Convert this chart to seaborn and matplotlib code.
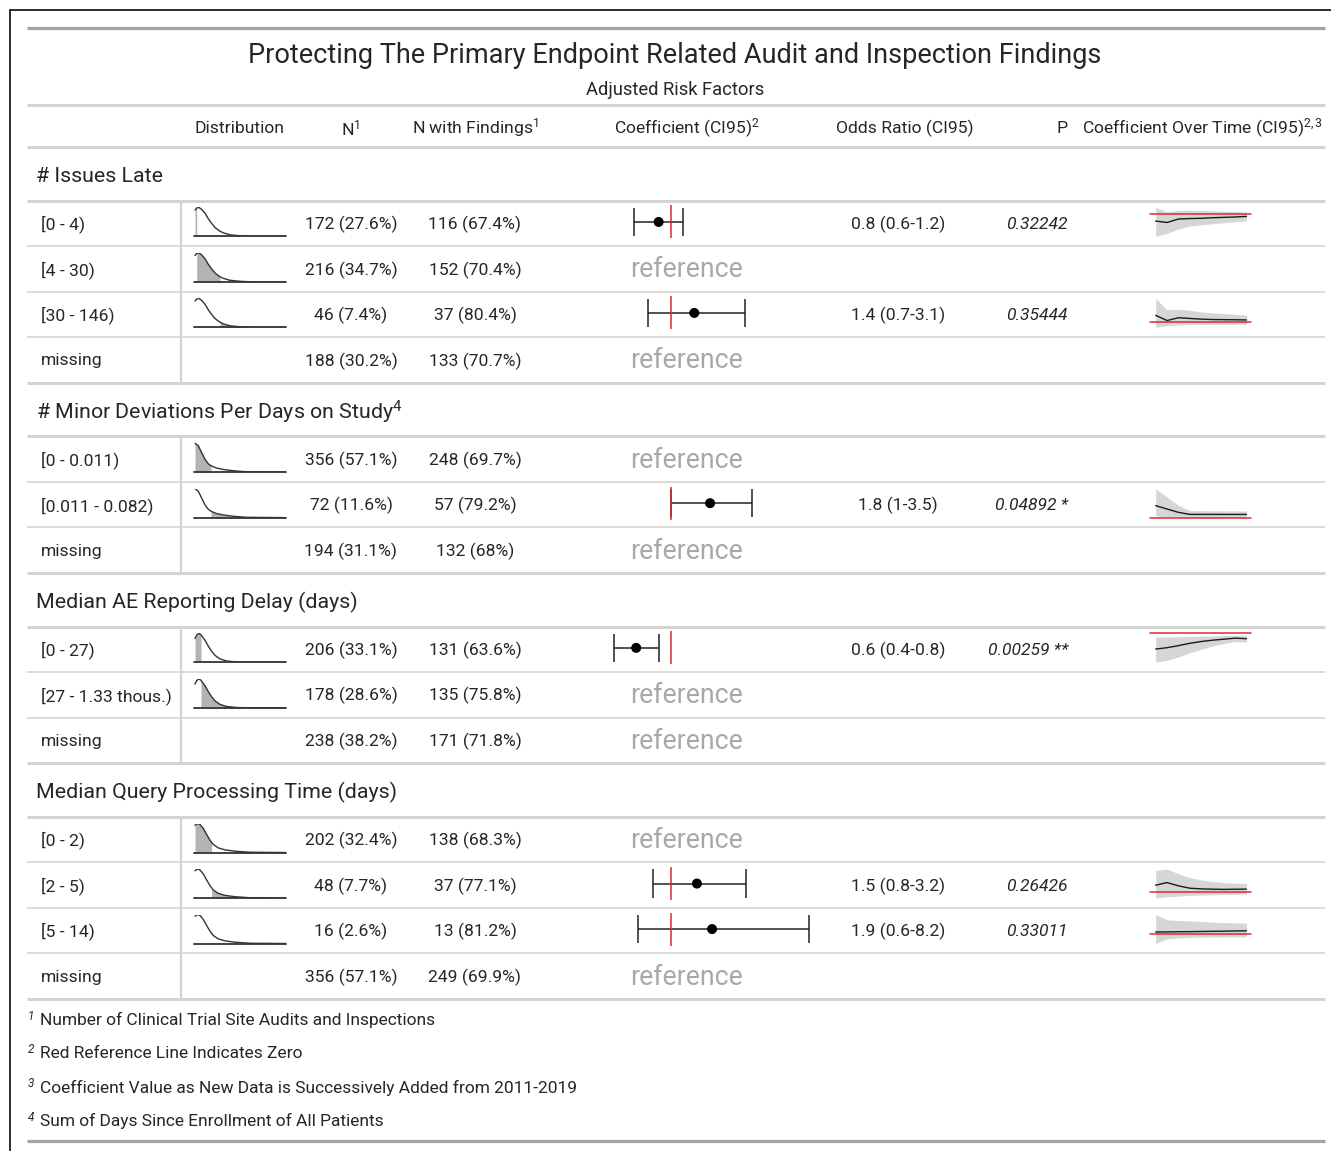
import numpy as np
import matplotlib
matplotlib.use("Agg")
import matplotlib.pyplot as plt
import seaborn as sns

sns.set_style("white")
plt.rcParams["font.family"] = ["Roboto", "DejaVu Sans"]
plt.rcParams["mathtext.fontset"] = "custom"
plt.rcParams["mathtext.rm"] = "Roboto"
plt.rcParams["mathtext.it"] = "Roboto:italic"

W, H = 1331, 1151

# ---------------------------------------------------------------- data
groups = [
    "# Issues Late",
    "# Minor Deviations Per Days on Study$^{\\mathit{4}}$",
    "Median AE Reporting Delay (days)",
    "Median Query Processing Time (days)",
]
group_sizes = [4, 3, 3, 4]

row_labels = [
    "[0 - 4)", "[4 - 30)", "[30 - 146)", "missing",
    "[0 - 0.011)", "[0.011 - 0.082)", "missing",
    "[0 - 27)", "[27 - 1.33 thous.)", "missing",
    "[0 - 2)", "[2 - 5)", "[5 - 14)", "missing",
]
n_sites = [172, 216, 46, 188, 356, 72, 194, 206, 178, 238, 202, 48, 16, 356]
n_pct = [27.6, 34.7, 7.4, 30.2, 57.1, 11.6, 31.1, 33.1, 28.6, 38.2, 32.4, 7.7, 2.6, 57.1]
n_findings = [116, 152, 37, 133, 248, 57, 132, 131, 135, 171, 138, 37, 13, 249]
findings_pct = [67.4, 70.4, 80.4, 70.7, 69.7, 79.2, 68.0, 63.6, 75.8, 71.8, 68.3, 77.1, 81.2, 69.9]

nan = np.nan
coef = [-0.18, nan, 0.36, nan, nan, 0.60, nan, -0.52, nan, nan, nan, 0.40, 0.63, nan]
ci_lo = [-0.55, nan, -0.34, nan, nan, 0.01, nan, -0.85, nan, nan, nan, -0.26, -0.50, nan]
ci_hi = [0.19, nan, 1.13, nan, nan, 1.24, nan, -0.17, nan, nan, nan, 1.15, 2.10, nan]
p_value = [0.32242, nan, 0.35444, nan, nan, 0.04892, nan, 0.00259, nan, nan, nan, 0.26426, 0.33011, nan]

# density sketch of each risk factor (position along the range, relative height)
dens_pos = [
    [0.011, 0.029, 0.054, 0.084, 0.12, 0.155, 0.192, 0.228, 0.264, 0.283, 0.318, 0.391, 0.5, 0.645, 1.0],
    [0.011, 0.047, 0.084, 0.12, 0.155, 0.185, 0.247, 0.318, 0.427, 0.573, 1.0],
    [0.011, 0.029, 0.054, 0.076, 0.12, 0.155, 0.192, 0.228, 0.283, 0.355, 0.464, 0.609, 1.0],
    [0.011, 0.036, 0.065, 0.101, 0.138, 0.174, 0.192, 0.21, 0.264, 0.337, 0.446, 0.609, 1.0],
]
dens_height = [
    [0.91, 0.98, 1.0, 0.93, 0.80, 0.61, 0.45, 0.31, 0.22, 0.18, 0.125, 0.057, 0.023, 0.0, 0.0],
    [1.0, 0.91, 0.67, 0.44, 0.29, 0.22, 0.14, 0.093, 0.047, 0.012, 0.0],
    [0.82, 0.94, 1.0, 0.95, 0.76, 0.56, 0.38, 0.24, 0.118, 0.047, 0.012, 0.0, 0.0],
    [0.94, 1.0, 0.97, 0.83, 0.62, 0.425, 0.35, 0.276, 0.16, 0.092, 0.046, 0.011, 0.0],
]
bin_edges = [
    [0.011, 0.029, 0.283, 1.0],
    [0.011, 0.185, 1.0],
    [0.011, 0.076, 1.0],
    [0.011, 0.192, 0.609, 1.0],
]

# coefficient re-estimated as each year's data is added
years = [2011, 2012, 2013, 2014, 2015, 2016, 2017, 2018, 2019]
trend_coef = {
    0: [-0.57, -0.69, -0.40, -0.36, -0.34, -0.29, -0.26, -0.23, -0.18],
    2: [1.09, 0.27, 0.71, 0.60, 0.49, 0.43, 0.41, 0.39, 0.36],
    5: [2.23, 1.61, 0.99, 0.61, 0.61, 0.61, 0.60, 0.60, 0.60],
    7: [-1.53, -1.40, -1.20, -0.97, -0.80, -0.67, -0.57, -0.47, -0.52],
    11: [0.91, 1.26, 0.83, 0.52, 0.43, 0.39, 0.36, 0.38, 0.40],
    12: [0.40, 0.42, 0.45, 0.47, 0.50, 0.53, 0.56, 0.60, 0.63],
}
trend_lo = {
    0: [-1.86, -1.60, -1.23, -1.00, -0.89, -0.80, -0.71, -0.63, -0.55],
    2: [-0.82, -0.52, -0.42, -0.38, -0.36, -0.35, -0.35, -0.34, -0.34],
    5: [0.30, 0.20, 0.10, 0.03, 0.02, 0.02, 0.02, 0.01, 0.01],
    7: [-2.83, -2.63, -2.30, -1.90, -1.57, -1.23, -1.00, -0.80, -0.85],
    11: [-0.78, -0.61, -0.52, -0.43, -0.39, -0.35, -0.32, -0.29, -0.26],
    12: [-1.80, -0.90, -0.70, -0.62, -0.58, -0.55, -0.53, -0.52, -0.50],
}
trend_hi = {
    0: [0.57, 0.20, 0.33, 0.34, 0.31, 0.29, 0.25, 0.22, 0.19],
    2: [3.75, 1.95, 2.05, 1.90, 1.63, 1.47, 1.36, 1.25, 1.13],
    5: [5.40, 3.84, 2.28, 1.32, 1.30, 1.28, 1.26, 1.25, 1.24],
    7: [-0.36, -0.35, -0.33, -0.31, -0.28, -0.25, -0.22, -0.19, -0.17],
    11: [2.87, 3.04, 2.43, 1.91, 1.61, 1.39, 1.26, 1.19, 1.15],
    12: [3.73, 2.73, 2.60, 2.53, 2.40, 2.27, 2.20, 2.13, 2.10],
}

footnotes = [
    ("1", "Number of Clinical Trial Site Audits and Inspections"),
    ("2", "Red Reference Line Indicates Zero"),
    ("3", "Coefficient Value as New Data is Successively Added from 2011-2019"),
    ("4", "Sum of Days Since Enrollment of All Patients"),
]

# ---------------------------------------------------------------- styling
TXT = "#262626"
RED = "#e0282d"
RULE = "#d3d3d3"
DARK_RULE = "#a3a3a3"
PX = 72 / 100  # points per pixel

fig = plt.figure(figsize=(W / 100, H / 100), dpi=100)
fig.patch.set_facecolor("white")
base = fig.add_axes([0, 0, 1, 1])
base.set_xlim(0, W)
base.set_ylim(H, 0)
base.axis("off")


def cell_axes(x0, x1, y0, y1):
    a = fig.add_axes([x0 / W, 1 - y1 / H, (x1 - x0) / W, (y1 - y0) / H])
    a.axis("off")
    a.patch.set_alpha(0)
    return a


def rule(y, color=RULE, width=3.0):
    base.plot([27, 1325], [y, y], color=color, lw=width * PX, solid_capstyle="butt", zorder=1)


def fmt_num(v):
    return f"{v:g}"


def fmt_or(v):
    s = f"{np.exp(v):.1f}"
    return s[:-2] if s.endswith(".0") else s


# outer frame
base.plot([10, 10], [H + 5, 10], color="black", lw=1.6 * PX)
base.plot([10, W + 5], [10, 10], color="black", lw=1.6 * PX)

# title block
rule(28, DARK_RULE, 3.2)
base.text(675, 55, "Protecting The Primary Endpoint Related Audit and Inspection Findings",
          ha="center", va="center", fontsize=19.5, color=TXT)
base.text(675, 89.5, "Adjusted Risk Factors", ha="center", va="center", fontsize=13.2, color=TXT)
rule(105)

# column headers
HY = 128
HFS = 12.6
base.text(239, HY, "Distribution", ha="center", va="center", fontsize=HFS, color=TXT)
base.text(351, HY, "N$^{\\mathit{1}}$", ha="center", va="center", fontsize=HFS, color=TXT)
base.text(475, HY, "N with Findings$^{\\mathit{1}}$", ha="center", va="center", fontsize=HFS, color=TXT)
base.text(687, HY, "Coefficient (CI95)$^{\\mathit{2}}$", ha="center", va="center", fontsize=HFS, color=TXT)
base.text(905, HY, "Odds Ratio (CI95)", ha="center", va="center", fontsize=HFS, color=TXT)
base.text(1068, HY, "P", ha="right", va="center", fontsize=HFS, color=TXT)
base.text(1082, HY, "Coefficient Over Time (CI95)$^{\\mathit{2,3}}$", ha="left", va="center",
          fontsize=HFS, color=TXT)
rule(147)

GROUP_H = 53.7
ROW_H = 45.5
BFS = 12.6

y = 147.0
r = 0
for g, (gname, gsize) in enumerate(zip(groups, group_sizes)):
    base.text(36, y + GROUP_H / 2 + 3, gname, ha="left", va="center", fontsize=15.4, color=TXT)
    y += GROUP_H
    rule(y)
    for k in range(gsize):
        top, bot = y, y + ROW_H
        c = (top + bot) / 2
        base.plot([181, 181], [top, bot], color=RULE, lw=2.2 * PX, solid_capstyle="butt")
        base.text(41, c + 1, row_labels[r], ha="left", va="center", fontsize=BFS, color=TXT)
        base.text(351, c + 1, f"{n_sites[r]} ({fmt_num(n_pct[r])}%)", ha="center", va="center",
                  fontsize=BFS, color=TXT)
        base.text(475, c + 1, f"{n_findings[r]} ({fmt_num(findings_pct[r])}%)", ha="center",
                  va="center", fontsize=BFS, color=TXT)

        # distribution sparkline with this bin shaded
        if row_labels[r] != "missing":
            dx = cell_axes(194, 286, c - 16, c + 13)
            dx.set_xlim(0, 1)
            dx.set_ylim(0, 1)
            t = np.array(dens_pos[g])
            h = np.array(dens_height[g])
            e0, e1 = bin_edges[g][k], bin_edges[g][k + 1]
            m = (t >= e0 - 1e-9) & (t <= e1 + 1e-9)
            dx.fill_between(t[m], 0, h[m], color="#b3b3b3", lw=0, zorder=1)
            sns.lineplot(x=t, y=h, ax=dx, color="#333333", lw=1.0, zorder=2)
            dx.axhline(0, color="#333333", lw=1.3, clip_on=False, zorder=3)
            dx.set_xlabel("")
            dx.set_ylabel("")

        if np.isnan(coef[r]):
            base.text(686, c + 1, "reference", ha="center", va="center", fontsize=19.2, color="#a8a8a8")
        else:
            fx = cell_axes(590, 830, c - 18, c + 15)
            fx.set_xlim(-1.22, 2.417)
            fx.set_ylim(-1.15, 1.15)
            fx.hlines(0, ci_lo[r], ci_hi[r], color="#222222", lw=1.1, zorder=2)
            fx.vlines([ci_lo[r], ci_hi[r]], -1, 1, color="#222222", lw=1.1, zorder=2)
            fx.axvline(0, color=RED, lw=1.1, zorder=3)
            sns.scatterplot(x=[coef[r]], y=[0], ax=fx, color="black", s=52, edgecolor="none",
                            zorder=4, legend=False)
            fx.set_xlabel("")
            fx.set_ylabel("")

            ortxt = f"{fmt_or(coef[r])} ({fmt_or(ci_lo[r])}-{fmt_or(ci_hi[r])})"
            base.text(898, c + 1, ortxt, ha="center", va="center", fontsize=BFS, color=TXT)
            p = p_value[r]
            stars = " **" if p < 0.01 else (" *" if p < 0.05 else "")
            base.text(1068, c + 1, f"{p:.5f}{stars}", ha="right", va="center", fontsize=BFS,
                      color=TXT, style="italic")

            tx = cell_axes(1150, 1251, c - 16, c + 13)
            lo = np.array(trend_lo[r])
            hi = np.array(trend_hi[r])
            xs = np.arange(len(years))
            tx.fill_between(xs, lo, hi, color="#d6d6d6", lw=0, zorder=1)
            tx.axhline(0, color=RED, lw=1.1, zorder=2, clip_on=False)
            sns.lineplot(x=xs, y=trend_coef[r], ax=tx, color="#1a1a1a", lw=1.0, zorder=3)
            tx.set_xlim(-0.5, 8.4)
            tx.set_ylim(min(lo.min(), 0), max(hi.max(), 0))
            tx.set_xlabel("")
            tx.set_ylabel("")

        y = bot
        last = k == gsize - 1
        rule(y, RULE, 3.0 if last else 1.6)
        r += 1

# footnotes
for i, (mark, note) in enumerate(footnotes):
    fy = 1020 + i * 33.8
    base.text(28, fy - 4, mark, ha="left", va="center", fontsize=8.5, color=TXT, style="italic")
    base.text(40, fy, note, ha="left", va="center", fontsize=12.5, color=TXT)

rule(1141, DARK_RULE, 3.2)

fig.savefig("out.png", dpi=100, facecolor="white")
